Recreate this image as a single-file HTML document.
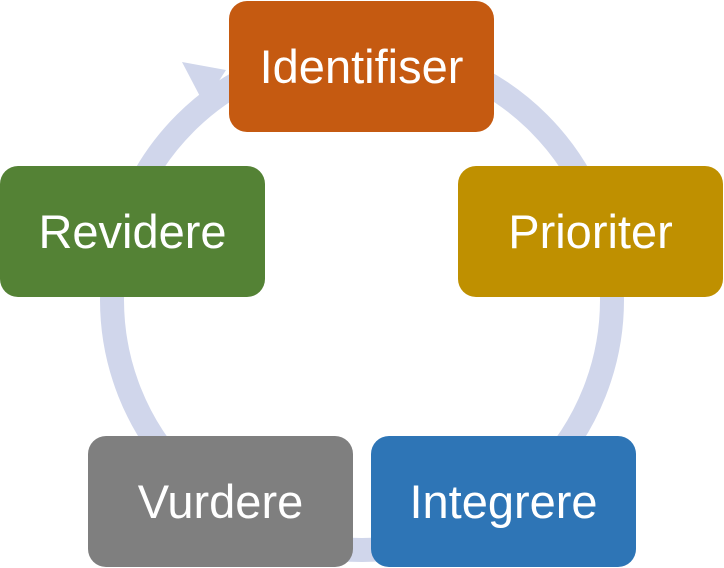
<!DOCTYPE html>
<html><head><style>
html,body{margin:0;padding:0;background:#fff;}
.c{position:relative;width:724px;height:568px;overflow:hidden;}
.b{position:absolute;width:265px;height:131px;border-radius:18px;color:#fff;font-family:"Liberation Sans",sans-serif;font-size:47px;display:flex;align-items:center;justify-content:center;}
svg{position:absolute;left:0;top:0;}
</style></head><body><div class="c">
<svg width="724" height="568">
<circle cx="362" cy="300" r="250" fill="none" stroke="#D0D6EB" stroke-width="24"/>
<polygon points="182,62 226,70 204,104" fill="#D0D6EB"/>
</svg>
<div class="b" style="left:229px;top:1px;background:#C55A11;">Identifiser</div>
<div class="b" style="left:458px;top:166px;background:#BF9000;">Prioriter</div>
<div class="b" style="left:371px;top:436px;background:#2E75B6;">Integrere</div>
<div class="b" style="left:88px;top:436px;background:#7F7F7F;">Vurdere</div>
<div class="b" style="left:0px;top:166px;background:#548235;">Revidere</div>
</div></body></html>
